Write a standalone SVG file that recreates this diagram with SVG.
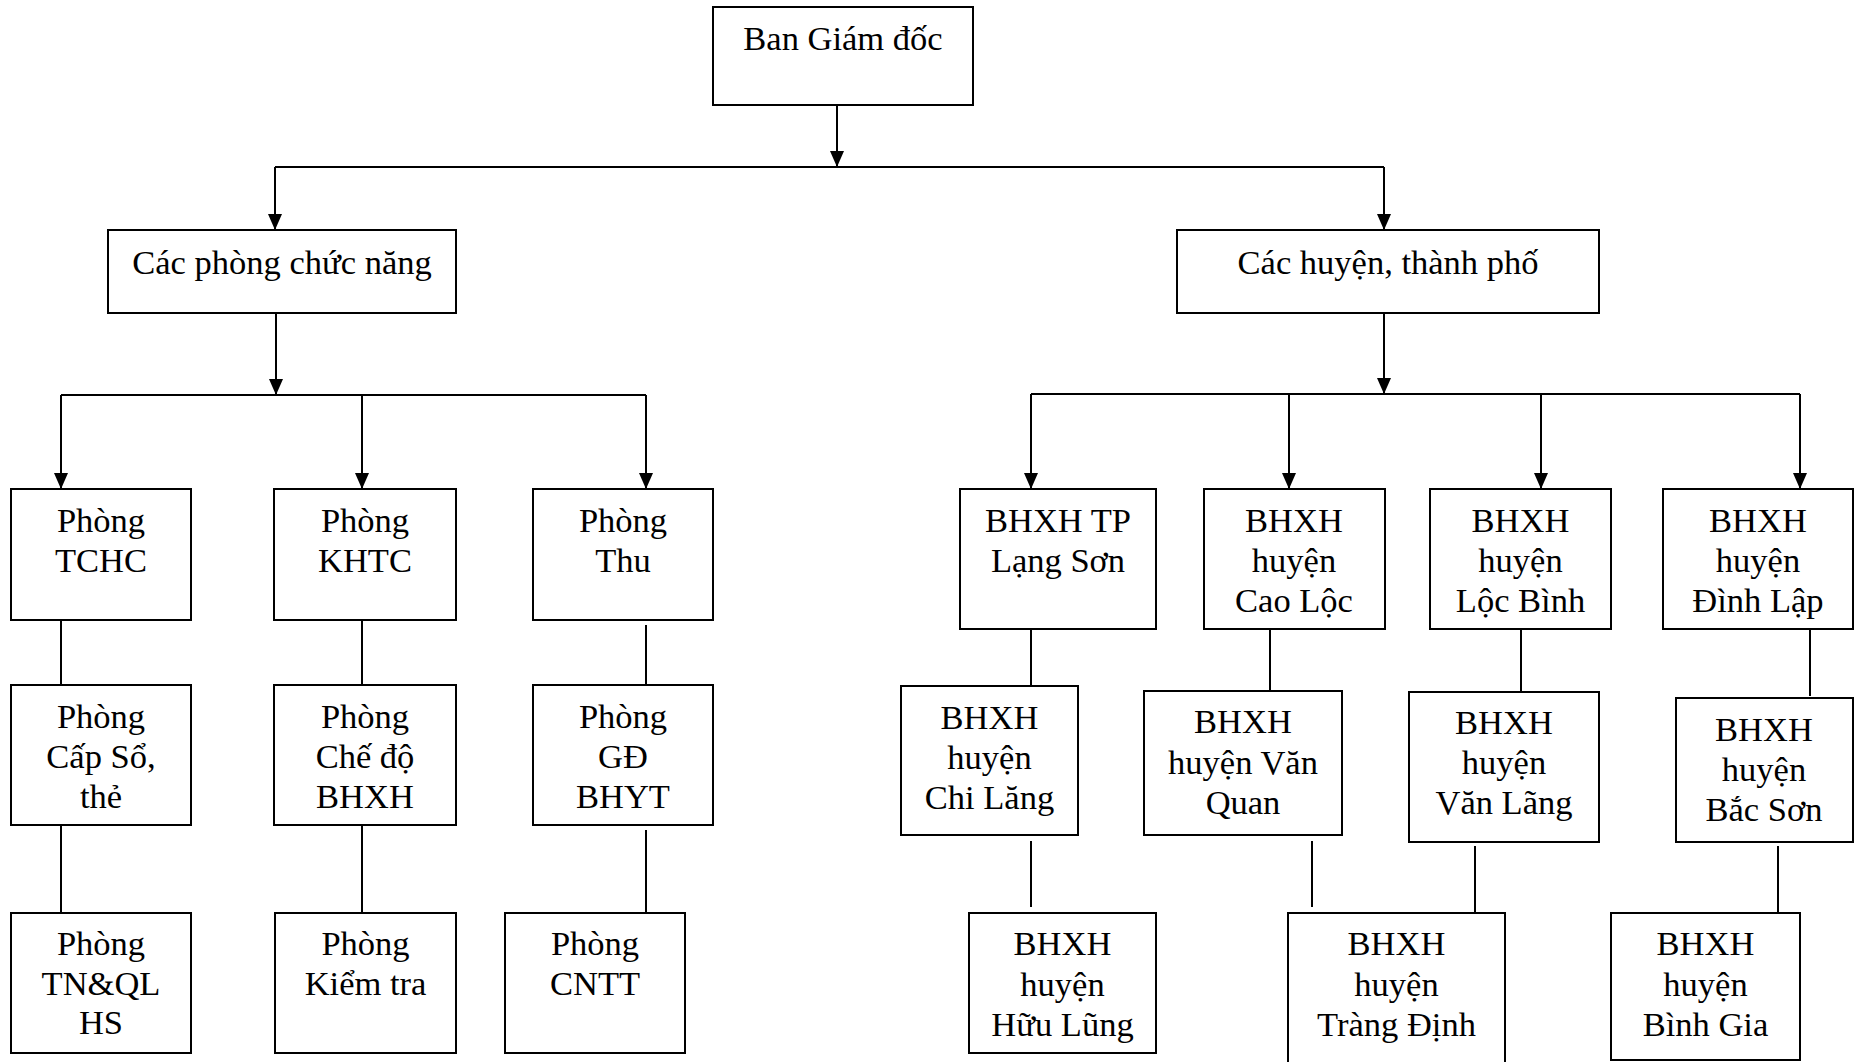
<svg xmlns="http://www.w3.org/2000/svg" width="1862" height="1062" viewBox="0 0 1862 1062">
<style>
.b{fill:#fff;stroke:#000;stroke-width:2}
.t{font-family:"Liberation Serif","Times New Roman",serif;font-size:34.5px;fill:#000;text-anchor:middle}
.c{stroke:#000;stroke-width:2;fill:none}
.a{marker-end:url(#ah)}
</style>
<defs>
<marker id="ah" markerUnits="userSpaceOnUse" markerWidth="16" markerHeight="14" refX="16" refY="7" orient="auto">
<path d="M0,0 L16,7 L0,14 z" fill="#000"/>
</marker>
</defs>
<rect width="1862" height="1062" fill="#fff"/>
<g id="connectors">
<line class="c a" x1="837" y1="105" x2="837" y2="167"/>
<line class="c" x1="275" y1="167" x2="1384" y2="167"/>
<line class="c a" x1="275" y1="167" x2="275" y2="230"/>
<line class="c a" x1="1384" y1="167" x2="1384" y2="230"/>
<line class="c a" x1="276" y1="313" x2="276" y2="395"/>
<line class="c" x1="61" y1="395" x2="646" y2="395"/>
<line class="c a" x1="61" y1="395" x2="61" y2="489"/>
<line class="c a" x1="362" y1="395" x2="362" y2="489"/>
<line class="c a" x1="646" y1="395" x2="646" y2="489"/>
<line class="c a" x1="1384" y1="313" x2="1384" y2="394"/>
<line class="c" x1="1031" y1="394" x2="1800" y2="394"/>
<line class="c a" x1="1031" y1="394" x2="1031" y2="489"/>
<line class="c a" x1="1289" y1="394" x2="1289" y2="489"/>
<line class="c a" x1="1541" y1="394" x2="1541" y2="489"/>
<line class="c a" x1="1800" y1="394" x2="1800" y2="489"/>
<line class="c" x1="61" y1="620" x2="61" y2="685"/>
<line class="c" x1="362" y1="620" x2="362" y2="685"/>
<line class="c" x1="646" y1="625" x2="646" y2="692"/>
<line class="c" x1="61" y1="825" x2="61" y2="913"/>
<line class="c" x1="362" y1="825" x2="362" y2="913"/>
<line class="c" x1="646" y1="830" x2="646" y2="913"/>
<line class="c" x1="1031" y1="629" x2="1031" y2="696"/>
<line class="c" x1="1031" y1="841" x2="1031" y2="907"/>
<line class="c" x1="1270" y1="626" x2="1270" y2="691"/>
<line class="c" x1="1312" y1="841" x2="1312" y2="907"/>
<line class="c" x1="1521" y1="629" x2="1521" y2="692"/>
<line class="c" x1="1475" y1="846" x2="1475" y2="913"/>
<line class="c" x1="1810" y1="629" x2="1810" y2="696"/>
<line class="c" x1="1778" y1="846" x2="1778" y2="913"/>
</g>
<g id="bgd"><rect class="b" x="713" y="7" width="260" height="98"/><text class="t" x="843" y="50">Ban Giám đốc</text></g>
<g id="cpcn"><rect class="b" x="108" y="230" width="348" height="83"/><text class="t" x="282" y="274">Các phòng chức năng</text></g>
<g id="chtp"><rect class="b" x="1177" y="230" width="422" height="83"/><text class="t" x="1388" y="274">Các huyện, thành phố</text></g>
<g id="tchc"><rect class="b" x="11" y="489" width="180" height="131"/><text class="t" x="101" y="532">Phòng</text><text class="t" x="101" y="572">TCHC</text></g>
<g id="khtc"><rect class="b" x="274" y="489" width="182" height="131"/><text class="t" x="365" y="532">Phòng</text><text class="t" x="365" y="572">KHTC</text></g>
<g id="thu"><rect class="b" x="533" y="489" width="180" height="131"/><text class="t" x="623" y="532">Phòng</text><text class="t" x="623" y="572">Thu</text></g>
<g id="capso"><rect class="b" x="11" y="685" width="180" height="140"/><text class="t" x="101" y="728">Phòng</text><text class="t" x="101" y="768">Cấp Sổ,</text><text class="t" x="101" y="808">thẻ</text></g>
<g id="chedo"><rect class="b" x="274" y="685" width="182" height="140"/><text class="t" x="365" y="728">Phòng</text><text class="t" x="365" y="768">Chế độ</text><text class="t" x="365" y="808">BHXH</text></g>
<g id="gd"><rect class="b" x="533" y="685" width="180" height="140"/><text class="t" x="623" y="728">Phòng</text><text class="t" x="623" y="768">GĐ</text><text class="t" x="623" y="808">BHYT</text></g>
<g id="tnql"><rect class="b" x="11" y="913" width="180" height="140"/><text class="t" x="101" y="955">Phòng</text><text class="t" x="101" y="995">TN&amp;QL</text><text class="t" x="101" y="1034">HS</text></g>
<g id="kiemtra"><rect class="b" x="275" y="913" width="181" height="140"/><text class="t" x="365.5" y="955">Phòng</text><text class="t" x="365.5" y="995">Kiểm tra</text></g>
<g id="cntt"><rect class="b" x="505" y="913" width="180" height="140"/><text class="t" x="595" y="955">Phòng</text><text class="t" x="595" y="995">CNTT</text></g>
<g id="tp"><rect class="b" x="960" y="489" width="196" height="140"/><text class="t" x="1058" y="532">BHXH TP</text><text class="t" x="1058" y="572">Lạng Sơn</text></g>
<g id="caoloc"><rect class="b" x="1204" y="489" width="181" height="140"/><text class="t" x="1294" y="532">BHXH</text><text class="t" x="1294" y="572">huyện</text><text class="t" x="1294" y="612">Cao Lộc</text></g>
<g id="locbinh"><rect class="b" x="1430" y="489" width="181" height="140"/><text class="t" x="1520.5" y="532">BHXH</text><text class="t" x="1520.5" y="572">huyện</text><text class="t" x="1520.5" y="612">Lộc Bình</text></g>
<g id="dinhlap"><rect class="b" x="1663" y="489" width="190" height="140"/><text class="t" x="1758" y="532">BHXH</text><text class="t" x="1758" y="572">huyện</text><text class="t" x="1758" y="612">Đình Lập</text></g>
<g id="chilang"><rect class="b" x="901" y="686" width="177" height="149"/><text class="t" x="989.5" y="729">BHXH</text><text class="t" x="989.5" y="769">huyện</text><text class="t" x="989.5" y="809">Chi Lăng</text></g>
<g id="vanquan"><rect class="b" x="1144" y="691" width="198" height="144"/><text class="t" x="1243" y="733">BHXH</text><text class="t" x="1243" y="774">huyện Văn</text><text class="t" x="1243" y="814">Quan</text></g>
<g id="vanlang"><rect class="b" x="1409" y="692" width="190" height="150"/><text class="t" x="1504" y="734">BHXH</text><text class="t" x="1504" y="774">huyện</text><text class="t" x="1504" y="814">Văn Lãng</text></g>
<g id="bacson"><rect class="b" x="1676" y="698" width="177" height="144"/><text class="t" x="1764" y="741">BHXH</text><text class="t" x="1764" y="781">huyện</text><text class="t" x="1764" y="821">Bắc Sơn</text></g>
<g id="huulung"><rect class="b" x="969" y="913" width="187" height="140"/><text class="t" x="1062.5" y="955">BHXH</text><text class="t" x="1062.5" y="996">huyện</text><text class="t" x="1062.5" y="1036">Hữu Lũng</text></g>
<g id="trangdinh"><rect class="b" x="1288" y="913" width="217" height="160"/><text class="t" x="1396.5" y="955">BHXH</text><text class="t" x="1396.5" y="996">huyện</text><text class="t" x="1396.5" y="1036">Tràng Định</text></g>
<g id="binhgia"><rect class="b" x="1611" y="913" width="189" height="147"/><text class="t" x="1705.5" y="955">BHXH</text><text class="t" x="1705.5" y="996">huyện</text><text class="t" x="1705.5" y="1036">Bình Gia</text></g>
</svg>
